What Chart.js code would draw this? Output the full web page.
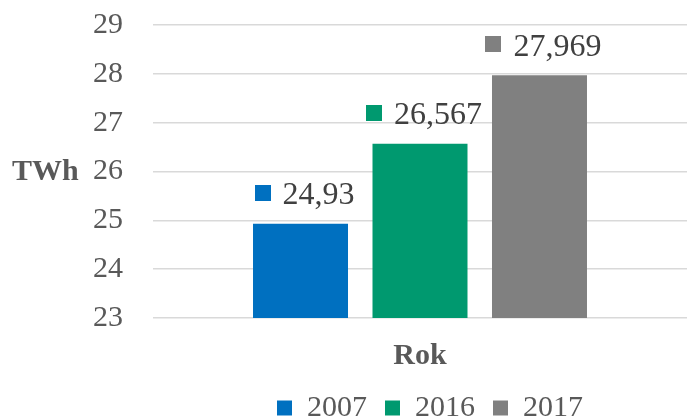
<!DOCTYPE html>
<html>
<head>
<meta charset="utf-8">
<script src="https://cdn.jsdelivr.net/npm/chart.js@4"></script>
<style>
html,body{margin:0;padding:0;background:#fff;}
#wrap{width:687px;height:418px;}
</style>
</head>
<body>
<div id="wrap"><canvas id="c" width="687" height="418"></canvas></div>
<script>
const categories = ["Rok"];
const seriesNames = ["2007", "2016", "2017"];
const seriesValues = [24.93, 26.567, 27.969];
const seriesColors = ["#0070C0", "#00996F", "#808080"];
const yMin = 23;
const yMax = 29;
const yStep = 1;
const yTitle = "TWh";
const xTitle = "Rok";

const FONT = '"Liberation Serif", "Times New Roman", serif';

const datasets = seriesNames.map((name, i) => ({
  label: name,
  data: [seriesValues[i]],
  backgroundColor: seriesColors[i],
  borderWidth: 0,
  categoryPercentage: 0.6713,
  barPercentage: 0.795
}));

const labelPlugin = {
  id: 'valueLabels',
  afterDatasetsDraw(chart) {
    const ctx = chart.ctx;
    ctx.save();
    ctx.font = '32px ' + FONT;
    chart.data.datasets.forEach((ds, i) => {
      const meta = chart.getDatasetMeta(i);
      const el = meta.data[0];
      const txt = String(ds.data[0]).replace('.', ',');
      const tw = ctx.measureText(txt).width;
      const sq = 16, gap = 12;
      const total = sq + gap + tw;
      const x0 = el.x - total / 2 + 4;
      const cy = el.y - 31;
      ctx.fillStyle = ds.backgroundColor;
      ctx.fillRect(Math.round(x0), Math.round(cy - sq / 2), sq, sq);
      ctx.fillStyle = '#404040';
      ctx.textAlign = 'left';
      ctx.textBaseline = 'alphabetic';
      ctx.fillText(txt, x0 + sq + gap, cy + 11.5);
    });
    ctx.restore();
  }
};

const yTitlePlugin = {
  id: 'yTitleH',
  afterDraw(chart) {
    const ctx = chart.ctx;
    const ys = chart.scales.y;
    ctx.save();
    ctx.font = 'bold 30px ' + FONT;
    ctx.fillStyle = '#595959';
    ctx.textAlign = 'left';
    ctx.textBaseline = 'middle';
    ctx.fillText(yTitle, 12, ys.getPixelForValue(26) + 1);
    ctx.restore();
  }
};

const legendShift = {
  id: 'legendShift',
  afterLayout(chart) {
    const l = chart.legend;
    if (l) { l.left = chart.chartArea.left + 10; l.right = chart.chartArea.right + 10; }
  }
};

new Chart(document.getElementById('c'), {
  type: 'bar',
  data: { labels: categories, datasets },
  plugins: [labelPlugin, yTitlePlugin, legendShift],
  options: {
    responsive: false,
    animation: false,
    devicePixelRatio: 1,
    layout: { padding: { left: 93, top: 25, right: 0, bottom: 0 } },
    plugins: {
      tooltip: { enabled: false },
      legend: {
        position: 'bottom',
        maxHeight: 43,
        labels: {
          font: { family: FONT, size: 30 },
          color: '#595959',
          boxWidth: 15,
          boxHeight: 15,
          padding: 18
        }
      }
    },
    scales: {
      x: {
        grid: { display: false, drawTicks: false },
        border: { display: false },
        ticks: { display: false },
        title: {
          display: true,
          text: xTitle,
          color: '#595959',
          font: { family: FONT, size: 30, weight: 'bold', lineHeight: 1.2 },
          padding: { top: 20, bottom: 1 }
        }
      },
      y: {
        min: yMin,
        max: yMax,
        afterFit(scale) { scale.width = 60; },
        grid: { color: '#d9d9d9', lineWidth: 1.5, drawTicks: false },
        border: { display: false },
        ticks: {
          stepSize: yStep,
          padding: 0,
          crossAlign: 'far',
          color: '#595959',
          font: { family: FONT, size: 30 }
        }
      }
    }
  }
});
</script>
</body>
</html>
